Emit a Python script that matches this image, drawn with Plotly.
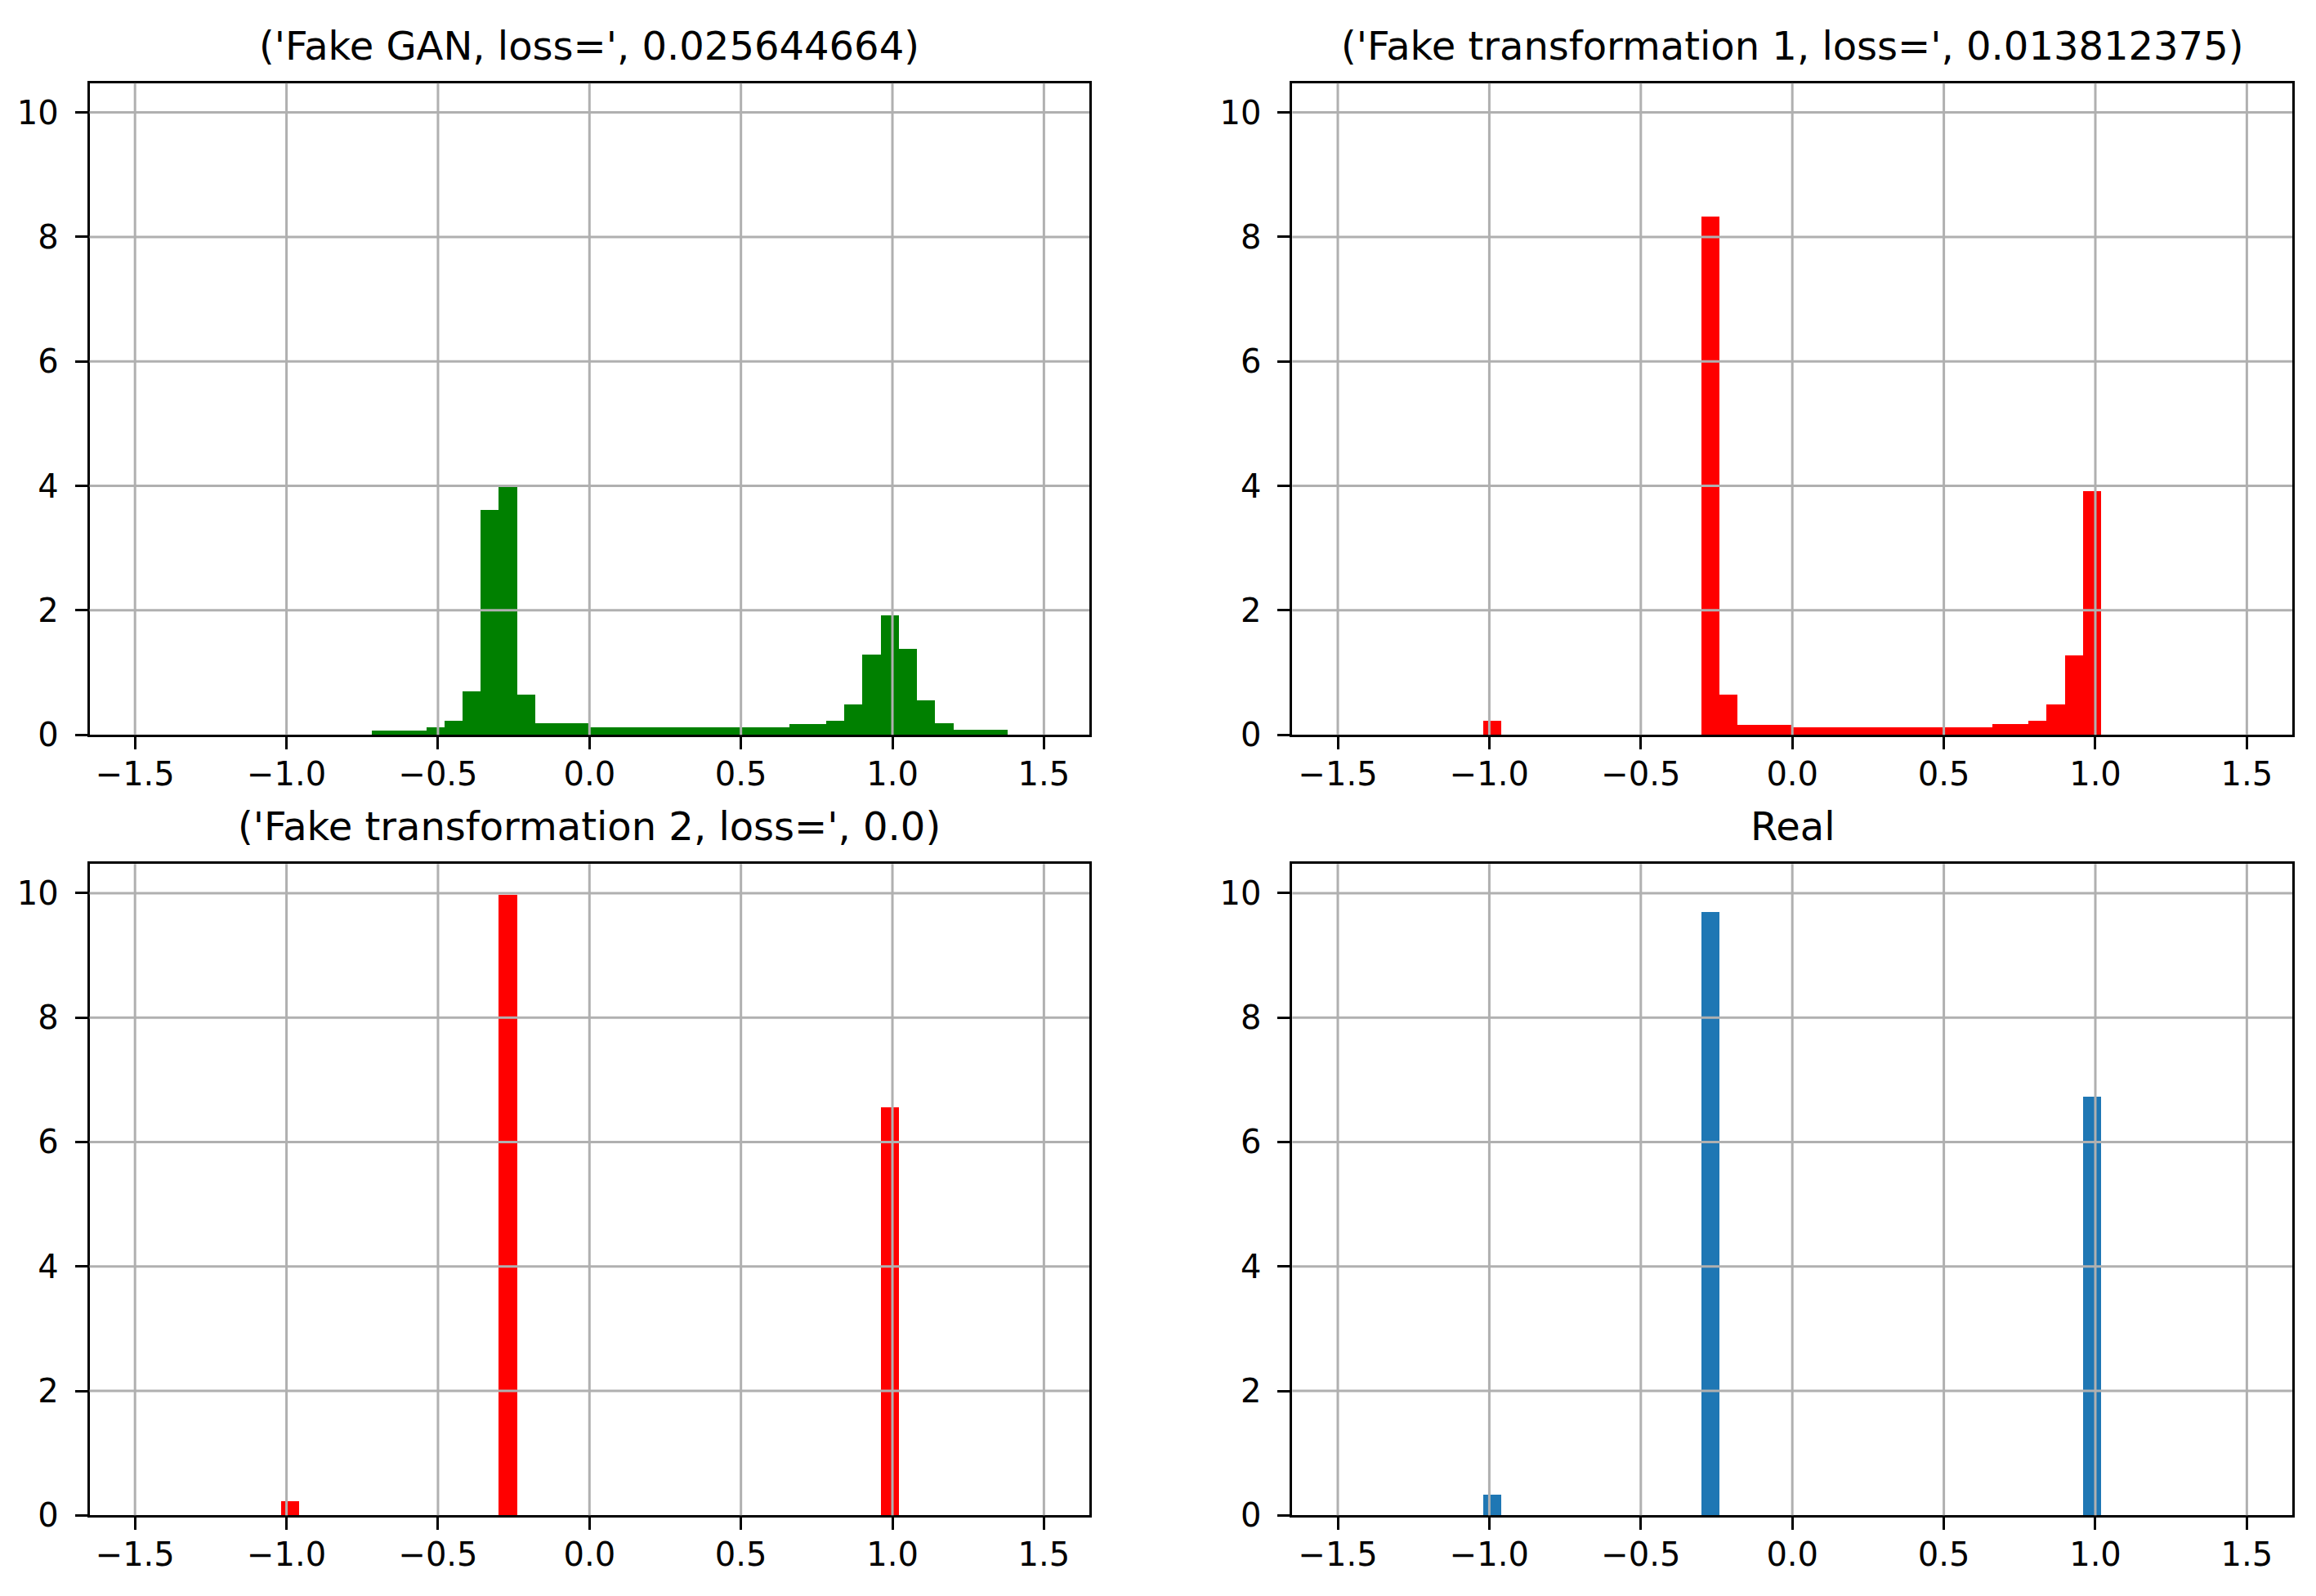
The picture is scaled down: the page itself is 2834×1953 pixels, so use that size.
import numpy as np
import plotly.graph_objects as go
from plotly.subplots import make_subplots


# histograms were made with hist(..., bins=50, range=(-1.5, 1.5), density=True)
bin_edges = np.linspace(-1.5, 1.5, 51)

titles = [
    "('Fake GAN, loss=', 0.025644664)",
    "('Fake transformation 1, loss=', 0.013812375)",
    "('Fake transformation 2, loss=', 0.0)",
    "Real",
]
colors = ["#008000", "#ff0000", "#ff0000", "#1f77b4"]

# density per bin (50 bins)
gan_density = [
    0, 0, 0, 0, 0, 0, 0, 0, 0, 0,
    0, 0, 0, 0.074, 0.074, 0.074, 0.126, 0.23, 0.706, 3.61,
    3.98, 0.654, 0.183, 0.183, 0.183, 0.126, 0.126, 0.126, 0.126, 0.126,
    0.126, 0.126, 0.126, 0.126, 0.126, 0.126, 0.178, 0.178, 0.23, 0.497,
    1.289, 1.92, 1.39, 0.553, 0.183, 0.078, 0.078, 0.078, 0, 0,
]
trans1_density = [
    0, 0, 0, 0, 0, 0, 0, 0, 0.222, 0,
    0, 0, 0, 0, 0, 0, 0, 0, 0, 0,
    8.33, 0.642, 0.168, 0.168, 0.168, 0.12, 0.12, 0.12, 0.12, 0.12,
    0.12, 0.12, 0.12, 0.12, 0.12, 0.12, 0.174, 0.174, 0.226, 0.49,
    1.285, 3.92, 0, 0, 0, 0, 0, 0, 0, 0,
]
trans2_density = [
    0, 0, 0, 0, 0, 0, 0, 0, 0.226, 0,
    0, 0, 0, 0, 0, 0, 0, 0, 0, 0,
    9.97, 0, 0, 0, 0, 0, 0, 0, 0, 0,
    0, 0, 0, 0, 0, 0, 0, 0, 0, 0,
    0, 6.56, 0, 0, 0, 0, 0, 0, 0, 0,
]
real_density = [
    0, 0, 0, 0, 0, 0, 0, 0, 0.334, 0,
    0, 0, 0, 0, 0, 0, 0, 0, 0, 0,
    9.70, 0, 0, 0, 0, 0, 0, 0, 0, 0,
    0, 0, 0, 0, 0, 0, 0, 0, 0, 0,
    0, 6.72, 0, 0, 0, 0, 0, 0, 0, 0,
]

x_ticks = [-1.5, -1.0, -0.5, 0.0, 0.5, 1.0, 1.5]
y_ticks = [0, 2, 4, 6, 8, 10]

# page body has an 8px margin; keep the figure inside the window
PAD = 8
W, H = 2810, 1932
VS = 1 / 0.988  # the photo came out slightly squashed vertically
FONT = "DejaVu Sans"
GRID = "#b0b0b0"

centers = (bin_edges[:-1] + bin_edges[1:]) / 2
widths = np.diff(bin_edges)

fig = make_subplots(rows=2, cols=2)
series = [gan_density, trans1_density, trans2_density, real_density]
for i, dens in enumerate(series):
    fig.add_trace(
        go.Bar(x=centers, y=dens, width=widths,
               marker_color=colors[i], marker_line_width=0,
               showlegend=False, hoverinfo="skip"),
        row=i // 2 + 1, col=i % 2 + 1,
    )

# axes boxes in window pixels (left, right, top, bottom)
boxes = [
    (109.6, 1333, 101.7, 899),
    (1581.4, 2805, 101.7, 899),
    (109.6, 1333, 1057, 1854),
    (1581.4, 2805, 1057, 1854),
]

axis_style = dict(
    showline=True, mirror=True, linecolor="black", linewidth=3,
    ticks="outside", ticklen=15, tickwidth=3, tickcolor="black",
    showgrid=False, zeroline=False, layer="above traces",
    tickfont=dict(family=FONT, size=40, color="black"),
)

annotations = []
for i, (l, r, t, b) in enumerate(boxes):
    l, r = l - PAD, r - PAD
    t, b = t * VS - PAD, b * VS - PAD
    n = "" if i == 0 else str(i + 1)
    fig.layout["xaxis" + n].update(
        domain=[l / W, r / W], range=[-1.65, 1.65],
        tickvals=x_ticks, tickformat=".1f", ticklabelstandoff=-4,
        **axis_style)
    fig.layout["yaxis" + n].update(
        domain=[1 - b / H, 1 - t / H], range=[0, 10.47],
        tickvals=y_ticks, ticklabelstandoff=12, **axis_style)
    annotations.append(dict(
        text=titles[i], xref="paper", yref="paper",
        x=(l + r) / 2 / W, y=1 - t / H, xanchor="center", yanchor="middle",
        yshift=46, showarrow=False,
        font=dict(family=FONT, size=48, color="black"),
    ))

    # matplotlib draws the grid on top of the bars
    row, col = i // 2 + 1, i % 2 + 1
    for xv in x_ticks:
        fig.add_vline(x=xv, line_color=GRID, line_width=3, layer="above",
                      row=row, col=col)
    for yv in y_ticks[1:]:
        fig.add_hline(y=yv, line_color=GRID, line_width=3, layer="above",
                      row=row, col=col)

fig.update_layout(
    width=W, height=H, autosize=False,
    margin=dict(l=0, r=0, t=0, b=0),
    paper_bgcolor="white", plot_bgcolor="white",
    bargap=0, annotations=annotations,
    font=dict(family=FONT, color="black"),
)

fig.write_html("out.html")
